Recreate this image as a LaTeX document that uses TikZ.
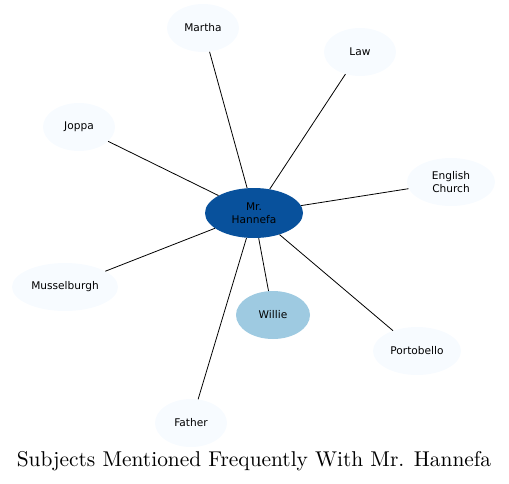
\documentclass[tikz,border=0pt]{standalone}
\usepackage{fontspec}
\newfontfamily\labelfont{DejaVu Sans}
\newfontfamily\titlefont{lmroman10-regular}[Extension=.otf]
\usetikzlibrary{shapes.geometric}
\definecolor{hubblue}{HTML}{08519C}
\definecolor{paleblue}{HTML}{F7FBFF}
\definecolor{midblue}{HTML}{9ECAE1}

\begin{document}
\begin{tikzpicture}[x=1pt,y=-1pt,
  topic/.style={ellipse,fill=paleblue,inner sep=0pt,minimum width=72pt,minimum height=48pt,
    align=center,font=\labelfont\fontsize{10.6}{13}\selectfont},
  link/.style={black,line width=0.8pt}]
\useasboundingbox (0,0) rectangle (509,483);
%% Hub
\node[topic,fill=hubblue,minimum width=98pt,minimum height=50pt] (hannefa) at (254,213) {Mr.\\Hannefa};
%% Subjects around the hub
\node[topic] (martha) at (203,28) {Martha};
\node[topic] (law) at (360,52) {Law};
\node[topic] (joppa) at (79,127) {Joppa};
\node[topic,minimum width=88pt] (church) at (451,182) {English\\Church};
\node[topic,minimum width=106pt] (musselburgh) at (65,287) {Musselburgh};
\node[topic,fill=midblue,minimum width=74pt] (willie) at (273,315) {Willie};
\node[topic,minimum width=88pt] (portobello) at (417,351) {Portobello};
\node[topic] (father) at (191,423) {Father};
%% Links
\foreach \t in {martha,law,joppa,church,musselburgh,willie,portobello,father}
  \draw[link] (hannefa) -- (\t);
%% Title
\node[font=\titlefont\fontsize{21.4}{25}\selectfont] (title) at (254,461) {Subjects Mentioned Frequently With Mr. Hannefa};
\end{tikzpicture}
\end{document}
